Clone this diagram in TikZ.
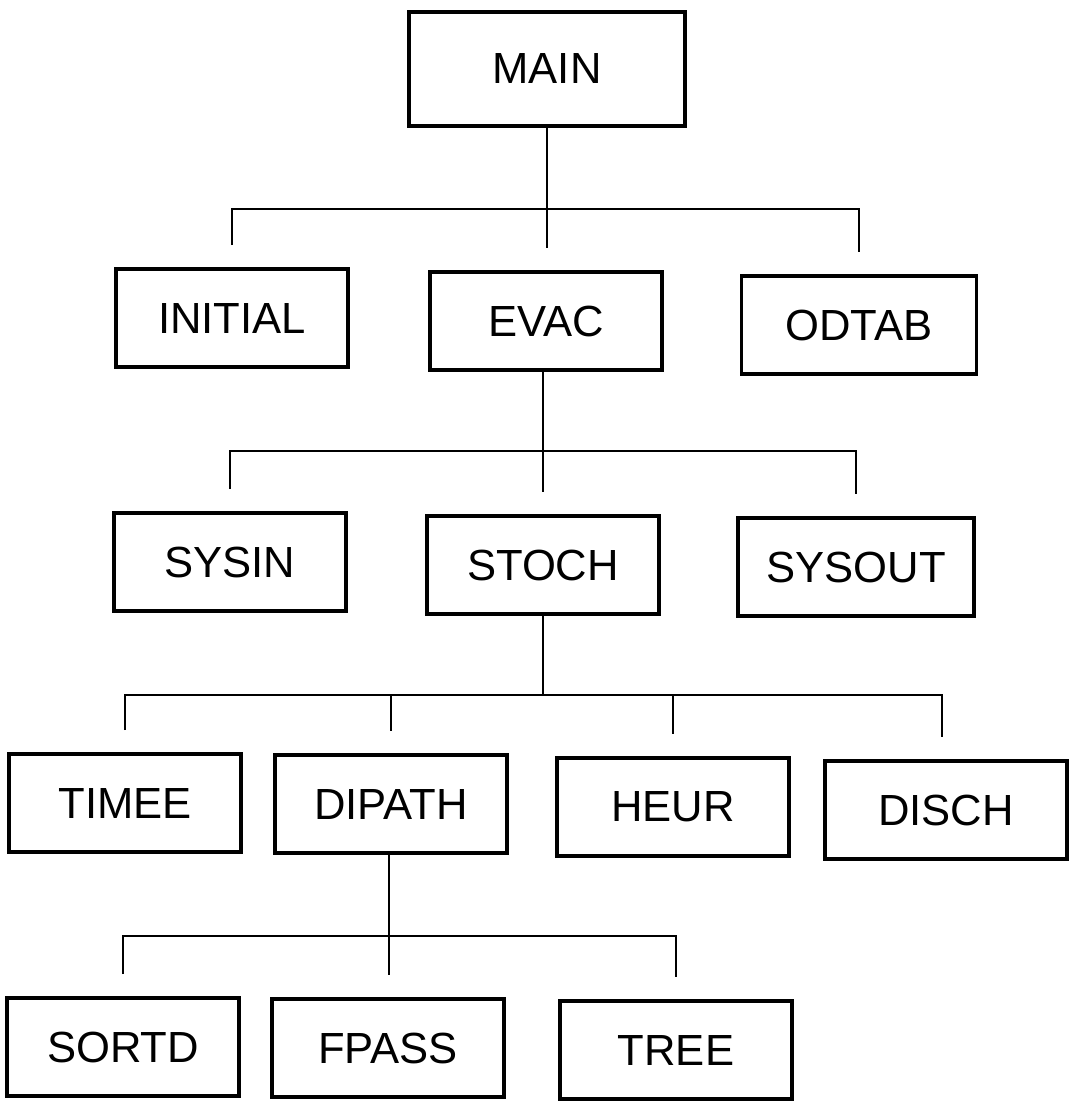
\documentclass[tikz,border=0pt]{standalone}
\usepackage{fontspec}
\setmainfont{Liberation Sans}
\usepackage{tikz}
\usetikzlibrary{positioning, calc}

\begin{document}
\begin{tikzpicture}[
    x=0.025cm, y=-0.025cm,
    module/.style={
        rectangle, draw=black, line width=2.6pt,
        minimum width=5.8cm, minimum height=2.45cm,
        font=\fontsize{31}{36}\selectfont,
    },
    link/.style={draw=black, line width=1.8pt},
    tick/.style={yshift=0.55cm},
]
\useasboundingbox (0,0) rectangle (1075,1105);

% Call tree modules
\node[module, minimum width=6.9cm, minimum height=2.85cm] (main) at (547,69) {MAIN};

\node[module] (initial) at (232,318)  {INITIAL};
\node[module] (evac)    at (546,321)  {EVAC};
\node[module, minimum width=5.88cm] (odtab) at (859,325) {ODTAB};

\node[module] (sysin)   at (230,562)  {SYSIN};
\node[module] (stoch)   at (543,565)  {STOCH};
\node[module, minimum width=5.9cm] (sysout) at (856,567) {SYSOUT};

\node[module] (timee)   at (125,803)  {TIMEE};
\node[module] (dipath)  at (391,804)  {DIPATH};
\node[module] (heur)    at (673,807)  {HEUR};
\node[module, minimum width=6.05cm] (disch) at (946,810) {DISCH};

\node[module] (sortd)   at (123,1047) {SORTD};
\node[module] (fpass)   at (388,1048) {FPASS};
\node[module] (tree)    at (676,1050) {TREE};

% Bus rails, one point on each under its caller
\coordinate (bus1) at (547,209);
\coordinate (bus2) at (543,451);
\coordinate (bus3) at (543,695);
\coordinate (bus4) at (389,936);

% MAIN
\draw[link] (main.south -| bus1) -- (bus1);
\draw[link] ([tick]initial.north) |- (bus1) -| ([tick]odtab.north);
\draw[link] (bus1) -- ([tick]evac.north -| bus1);

% EVAC
\draw[link] (evac.south -| bus2) -- (bus2);
\draw[link] ([tick]sysin.north) |- (bus2) -| ([tick]sysout.north);
\draw[link] (bus2) -- ([tick]stoch.north -| bus2);

% STOCH
\draw[link] (stoch.south -| bus3) -- (bus3);
\draw[link] ([tick]timee.north) |- (bus3) -| ([xshift=-3pt,tick]disch.north);
\draw[link] (dipath.north |- bus3) -- ([tick]dipath.north);
\draw[link] (heur.north |- bus3) -- ([tick]heur.north);

% DIPATH
\draw[link] (dipath.south -| bus4) -- (bus4);
\draw[link] ([tick]sortd.north) |- (bus4) -| ([tick]tree.north);
\draw[link] (bus4) -- ([tick]fpass.north -| bus4);

\end{tikzpicture}
\end{document}
